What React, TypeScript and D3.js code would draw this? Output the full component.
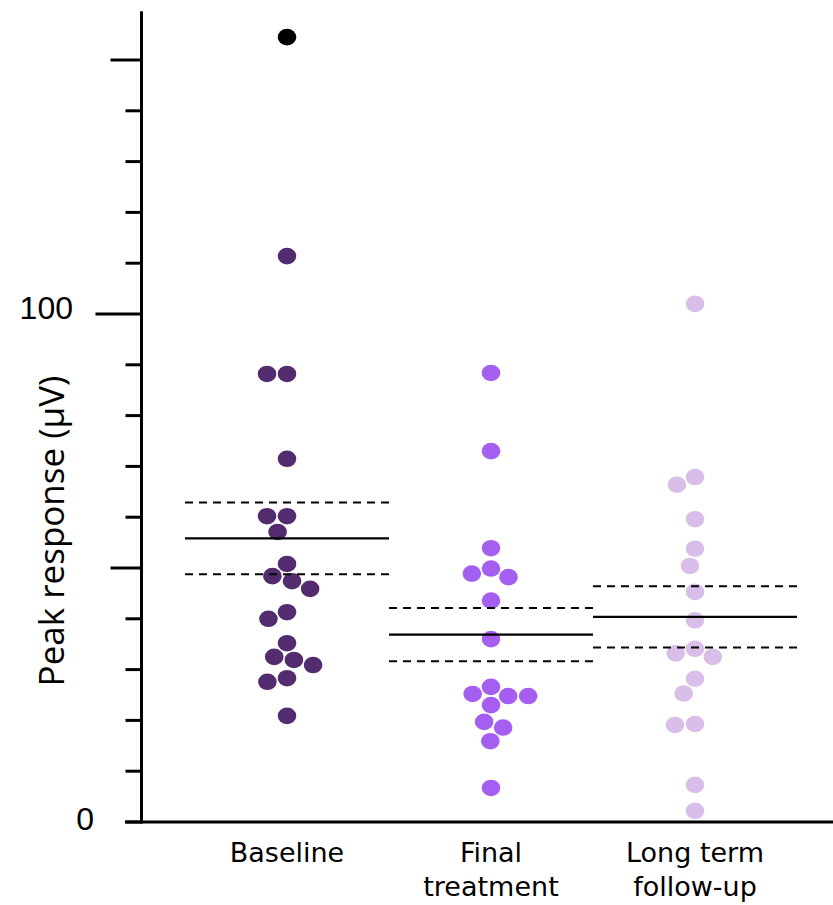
import React from "react";
import * as d3 from "d3";

const categories = ["Baseline", "Final treatment", "Long term follow-up"];
const categoryLines = [["Baseline"], ["Final", "treatment"], ["Long term", "follow-up"]];
const baselineOutliers = [154.5];
const baselineValues = [111.4, 88.2, 88.2, 71.5, 60.2, 60.2, 57.1, 50.8, 48.4, 47.4, 45.9, 41.3, 40.0, 35.2, 32.5, 31.9, 30.9, 28.3, 27.6, 20.9];
const finalValues = [88.4, 73.0, 53.9, 49.9, 48.9, 48.2, 43.6, 36.0, 26.6, 25.2, 24.8, 24.8, 23.0, 19.7, 18.6, 15.9, 6.7];
const followUpValues = [102.0, 67.9, 66.4, 59.6, 53.8, 50.4, 45.3, 39.7, 34.1, 33.2, 32.5, 28.2, 25.3, 19.3, 19.1, 7.3, 2.2];
const groupColors = ["#522c6e", "#a55ff0", "#d8bee9"];
const outlierColor = "#000000";
const yTickValues = d3.range(0, 151, 10);
const yLabelValues = [0, 100];
const yLabel = "Peak response (µV)";

const W = 833;
const H = 905;
const RX = 9.3;
const RY = 8.3;
const D = 20;

function swarm(vals: number[], y: (v: number) => number) {
  const k = RX / RY;
  const order = vals.map((v, i) => i).sort((a, b) => vals[b] - vals[a]);
  const placed: { x: number; ys: number; i: number }[] = [];
  for (const i of order) {
    const ys = y(vals[i]) * k;
    const cands = [0];
    for (const p of placed) {
      const dy = Math.abs(p.ys - ys);
      if (dy < D) {
        const dx = Math.sqrt(D * D - dy * dy);
        cands.push(p.x - dx, p.x + dx);
      }
    }
    cands.sort((a, b) => Math.abs(a) - Math.abs(b) || a - b);
    let chosen = 0;
    for (const c of cands) {
      const ok = placed.every((p) => (p.x - c) ** 2 + (p.ys - ys) ** 2 >= D * D - 1e-6);
      if (ok) { chosen = c; break; }
    }
    placed.push({ x: chosen, ys, i });
  }
  const out: number[] = new Array(vals.length);
  placed.forEach((p) => (out[p.i] = p.x));
  return out;
}

export default function App() {
  const y = d3.scaleLinear().domain([0, 100]).range([822, 314]);
  const x = d3.scaleBand<string>().domain(categories).range([185, 797]).padding(0);
  const axisX = 141.5;

  const groups = [
    { values: [...baselineOutliers, ...baselineValues], colors: [...baselineOutliers.map(() => outlierColor), ...baselineValues.map(() => groupColors[0])] },
    { values: finalValues, colors: finalValues.map(() => groupColors[1]) },
    { values: followUpValues, colors: followUpValues.map(() => groupColors[2]) },
  ];

  return (
    <svg width={W} height={H} style={{ position: "absolute", left: 0, top: 0, background: "#fff" }}>
      <line x1={axisX} x2={axisX} y1={y(0) + 1.5} y2={y(159.6)} stroke="#000" strokeWidth={3} />
      {yTickValues.map((t) => {
        const len = t === 100 ? 46 : t % 50 === 0 && t !== 0 ? 31 : 16;
        return <line key={t} x1={axisX - len} x2={axisX} y1={y(t)} y2={y(t)} stroke="#000" strokeWidth={3} />;
      })}
      {yLabelValues.map((t) => (
        <text key={t} x={t === 100 ? 73 : 94} y={y(t) + (t === 0 ? 8 : 5)} textAnchor="end" fontFamily="'Liberation Sans', Arial, sans-serif" fontSize={32} fill="#000">
          {t}
        </text>
      ))}
      <line x1={125} x2={833} y1={y(0)} y2={y(0)} stroke="#000" strokeWidth={3} />
      <text transform={`translate(64,${531}) rotate(-90)`} textAnchor="middle" fontFamily="'Open Sans', sans-serif" fontSize={35} fill="#000">
        {yLabel}
      </text>
      {categoryLines.map((lines, gi) =>
        lines.map((l, li) => (
          <text key={`${gi}-${li}`} x={(x(categories[gi]) as number) + x.bandwidth() / 2} y={862 + li * 34} textAnchor="middle" fontFamily="'DejaVu Sans', sans-serif" fontSize={27} fill="#000">
            {l}
          </text>
        ))
      )}
      {groups.map((g, gi) => {
        const cx = (x(categories[gi]) as number) + x.bandwidth() / 2;
        const offs = swarm(g.values, y);
        const mean = d3.mean(g.values) as number;
        const sem = (d3.deviation(g.values) as number) / Math.sqrt(g.values.length);
        const x0 = x(categories[gi]) as number;
        const x1 = x0 + x.bandwidth();
        return (
          <g key={gi}>
            {g.values.map((v, i) => (
              <ellipse key={i} cx={cx + offs[i]} cy={y(v)} rx={RX} ry={RY} fill={g.colors[i]} />
            ))}
            <line x1={x0} x2={x1} y1={y(mean)} y2={y(mean)} stroke="#000" strokeWidth={2.2} />
            <line x1={x0} x2={x1} y1={y(mean + sem)} y2={y(mean + sem)} stroke="#000" strokeWidth={2} strokeDasharray="8,6" />
            <line x1={x0} x2={x1} y1={y(mean - sem)} y2={y(mean - sem)} stroke="#000" strokeWidth={2} strokeDasharray="8,6" />
          </g>
        );
      })}
    </svg>
  );
}
